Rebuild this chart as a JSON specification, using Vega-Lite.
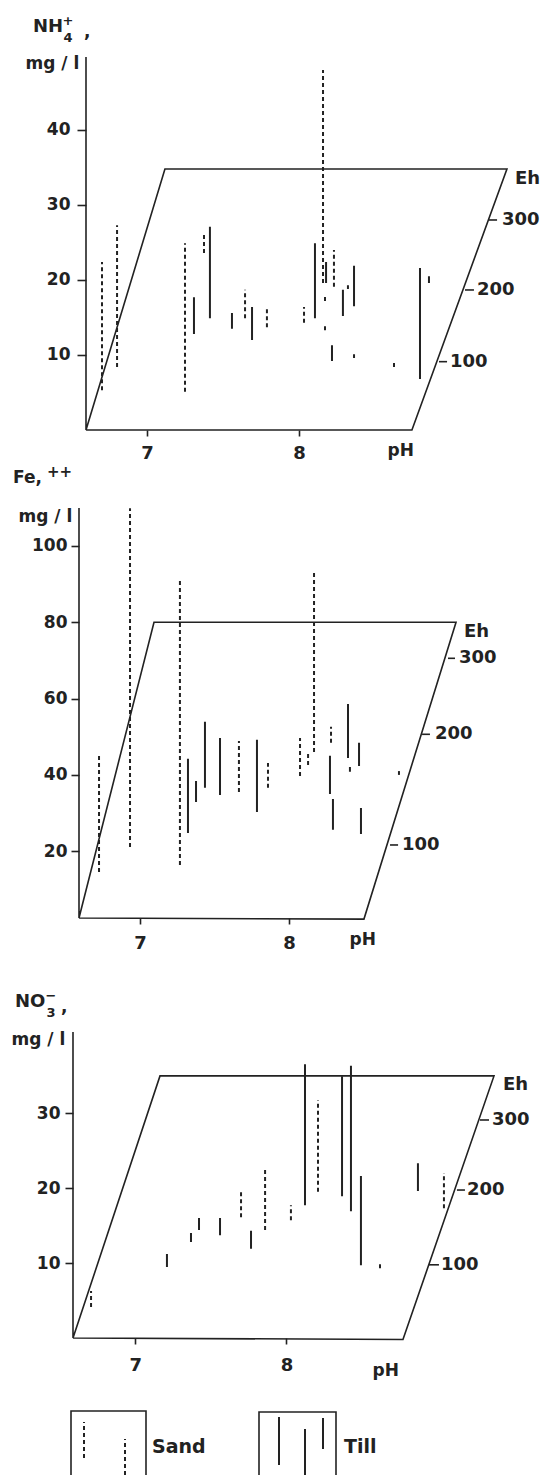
{
  "$schema": "https://vega.github.io/schema/vega-lite/v6.json",
  "padding": {"left": 11, "top": 15, "right": 0, "bottom": 0},
  "bounds": "flush",
  "spacing": 73,
  "config": {
    "font": "DejaVu Sans",
    "view": {"stroke": null},
    "axis": {"grid": false, "domainColor": "#222", "tickColor": "#222", "labelColor": "#222", "titleColor": "#222", "domainWidth": 1.5, "tickWidth": 1.6, "labelFontSize": 17, "labelFontWeight": "bold", "titleFontSize": 17, "titleFontWeight": "bold", "labelFont": "DejaVu Sans", "titleFont": "DejaVu Sans"},
    "text": {"color": "#222", "font": "DejaVu Sans", "fontWeight": "bold"},
    "line": {"color": "#222"},
    "rule": {"color": "#222"}
  },
  "datasets": {
    "frame": [
      {"panel": "NH4", "ord": 0, "pos": 6.5987, "conc": 49.73},
      {"panel": "NH4", "ord": 1, "pos": 6.5987, "conc": 0},
      {"panel": "NH4", "ord": 2, "pos": 7.118, "conc": 34.8},
      {"panel": "NH4", "ord": 3, "pos": 9.368, "conc": 34.8},
      {"panel": "NH4", "ord": 4, "pos": 8.743, "conc": 0},
      {"panel": "NH4", "ord": 5, "pos": 6.5987, "conc": 0},
      {"panel": "Fe", "ord": 0, "pos": 6.5906, "conc": 109.96},
      {"panel": "Fe", "ord": 1, "pos": 6.5906, "conc": 2.49},
      {"panel": "Fe", "ord": 2, "pos": 7.094, "conc": 80.0},
      {"panel": "Fe", "ord": 3, "pos": 9.121, "conc": 80.0},
      {"panel": "Fe", "ord": 4, "pos": 8.503, "conc": 2.2},
      {"panel": "Fe", "ord": 5, "pos": 6.5906, "conc": 2.49},
      {"panel": "NO3", "ord": 0, "pos": 6.5886, "conc": 40.8},
      {"panel": "NO3", "ord": 1, "pos": 6.5886, "conc": 0},
      {"panel": "NO3", "ord": 2, "pos": 7.164, "conc": 34.95},
      {"panel": "NO3", "ord": 3, "pos": 9.373, "conc": 34.95},
      {"panel": "NO3", "ord": 4, "pos": 8.771, "conc": -0.2},
      {"panel": "NO3", "ord": 5, "pos": 6.5886, "conc": 0}
    ],
    "lines": [
      {"panel": "NH4", "pos": 6.704, "lo": 5.3, "hi": 22.4, "type": "Sand"},
      {"panel": "NH4", "pos": 6.803, "lo": 8.4, "hi": 27.3, "type": "Sand"},
      {"panel": "NH4", "pos": 7.25, "lo": 5.1, "hi": 24.9, "type": "Sand"},
      {"panel": "NH4", "pos": 7.309, "lo": 12.8, "hi": 17.7, "type": "Till"},
      {"panel": "NH4", "pos": 7.375, "lo": 23.6, "hi": 26.0, "type": "Sand"},
      {"panel": "NH4", "pos": 7.414, "lo": 14.9, "hi": 27.1, "type": "Till"},
      {"panel": "NH4", "pos": 7.559, "lo": 13.5, "hi": 15.6, "type": "Till"},
      {"panel": "NH4", "pos": 7.645, "lo": 14.9, "hi": 18.7, "type": "Sand"},
      {"panel": "NH4", "pos": 7.691, "lo": 12.0, "hi": 16.4, "type": "Till"},
      {"panel": "NH4", "pos": 7.789, "lo": 13.7, "hi": 16.1, "type": "Sand"},
      {"panel": "NH4", "pos": 8.033, "lo": 14.3, "hi": 16.4, "type": "Sand"},
      {"panel": "NH4", "pos": 8.105, "lo": 14.9, "hi": 24.9, "type": "Till"},
      {"panel": "NH4", "pos": 8.158, "lo": 19.6, "hi": 48.0, "type": "Sand"},
      {"panel": "NH4", "pos": 8.178, "lo": 19.6, "hi": 22.4, "type": "Till"},
      {"panel": "NH4", "pos": 8.23, "lo": 19.1, "hi": 24.0, "type": "Sand"},
      {"panel": "NH4", "pos": 8.171, "lo": 17.2, "hi": 18.0, "type": "Sand"},
      {"panel": "NH4", "pos": 8.171, "lo": 13.3, "hi": 14.1, "type": "Sand"},
      {"panel": "NH4", "pos": 8.289, "lo": 15.2, "hi": 18.7, "type": "Till"},
      {"panel": "NH4", "pos": 8.322, "lo": 18.8, "hi": 19.3, "type": "Sand"},
      {"panel": "NH4", "pos": 8.362, "lo": 16.5, "hi": 21.9, "type": "Till"},
      {"panel": "NH4", "pos": 8.217, "lo": 9.2, "hi": 11.3, "type": "Till"},
      {"panel": "NH4", "pos": 8.362, "lo": 9.6, "hi": 10.1, "type": "Till"},
      {"panel": "NH4", "pos": 8.625, "lo": 8.4, "hi": 9.1, "type": "Sand"},
      {"panel": "NH4", "pos": 8.796, "lo": 6.8, "hi": 21.6, "type": "Till"},
      {"panel": "NH4", "pos": 8.855, "lo": 19.6, "hi": 20.5, "type": "Till"},
      {"panel": "Fe", "pos": 6.725, "lo": 14.55, "hi": 45.74, "type": "Sand"},
      {"panel": "Fe", "pos": 6.933, "lo": 21.1, "hi": 109.9, "type": "Sand"},
      {"panel": "Fe", "pos": 7.268, "lo": 16.4, "hi": 91.1, "type": "Sand"},
      {"panel": "Fe", "pos": 7.322, "lo": 24.8, "hi": 44.2, "type": "Till"},
      {"panel": "Fe", "pos": 7.376, "lo": 32.9, "hi": 38.4, "type": "Till"},
      {"panel": "Fe", "pos": 7.436, "lo": 36.6, "hi": 53.9, "type": "Till"},
      {"panel": "Fe", "pos": 7.537, "lo": 34.7, "hi": 49.7, "type": "Till"},
      {"panel": "Fe", "pos": 7.664, "lo": 35.5, "hi": 48.9, "type": "Sand"},
      {"panel": "Fe", "pos": 7.785, "lo": 30.3, "hi": 49.2, "type": "Till"},
      {"panel": "Fe", "pos": 7.859, "lo": 36.6, "hi": 43.1, "type": "Sand"},
      {"panel": "Fe", "pos": 8.074, "lo": 39.7, "hi": 49.7, "type": "Sand"},
      {"panel": "Fe", "pos": 8.128, "lo": 42.6, "hi": 46.0, "type": "Sand"},
      {"panel": "Fe", "pos": 8.168, "lo": 46.0, "hi": 92.9, "type": "Sand"},
      {"panel": "Fe", "pos": 8.282, "lo": 48.4, "hi": 52.6, "type": "Sand"},
      {"panel": "Fe", "pos": 8.275, "lo": 35.0, "hi": 45.0, "type": "Till"},
      {"panel": "Fe", "pos": 8.295, "lo": 25.6, "hi": 33.7, "type": "Till"},
      {"panel": "Fe", "pos": 8.396, "lo": 44.4, "hi": 58.6, "type": "Till"},
      {"panel": "Fe", "pos": 8.409, "lo": 40.8, "hi": 42.1, "type": "Till"},
      {"panel": "Fe", "pos": 8.47, "lo": 42.3, "hi": 48.4, "type": "Till"},
      {"panel": "Fe", "pos": 8.483, "lo": 24.5, "hi": 31.3, "type": "Till"},
      {"panel": "Fe", "pos": 8.738, "lo": 40.0, "hi": 41.0, "type": "Sand"},
      {"panel": "NO3", "pos": 6.708, "lo": 4.13, "hi": 6.27, "type": "Sand"},
      {"panel": "NO3", "pos": 7.21, "lo": 9.47, "hi": 11.2, "type": "Till"},
      {"panel": "NO3", "pos": 7.369, "lo": 12.8, "hi": 14.0, "type": "Till"},
      {"panel": "NO3", "pos": 7.422, "lo": 14.4, "hi": 16.0, "type": "Till"},
      {"panel": "NO3", "pos": 7.561, "lo": 13.7, "hi": 16.0, "type": "Till"},
      {"panel": "NO3", "pos": 7.7, "lo": 16.1, "hi": 19.7, "type": "Sand"},
      {"panel": "NO3", "pos": 7.766, "lo": 11.9, "hi": 14.3, "type": "Till"},
      {"panel": "NO3", "pos": 7.859, "lo": 14.4, "hi": 22.7, "type": "Sand"},
      {"panel": "NO3", "pos": 8.03, "lo": 15.7, "hi": 17.7, "type": "Sand"},
      {"panel": "NO3", "pos": 8.123, "lo": 17.7, "hi": 36.5, "type": "Till"},
      {"panel": "NO3", "pos": 8.209, "lo": 19.5, "hi": 31.7, "type": "Sand"},
      {"panel": "NO3", "pos": 8.368, "lo": 18.9, "hi": 34.9, "type": "Till"},
      {"panel": "NO3", "pos": 8.427, "lo": 16.9, "hi": 36.3, "type": "Till"},
      {"panel": "NO3", "pos": 8.493, "lo": 9.7, "hi": 21.6, "type": "Till"},
      {"panel": "NO3", "pos": 8.619, "lo": 9.3, "hi": 10.0, "type": "Sand"},
      {"panel": "NO3", "pos": 8.87, "lo": 19.6, "hi": 23.3, "type": "Till"},
      {"panel": "NO3", "pos": 9.042, "lo": 17.3, "hi": 22.0, "type": "Sand"}
    ],
    "eh": [
      {"panel": "NH4", "label": "300", "pos": 9.25, "pos2": 9.303, "lpos": 9.336, "conc": 28.0},
      {"panel": "NH4", "label": "200", "pos": 9.092, "pos2": 9.151, "lpos": 9.171, "conc": 18.67},
      {"panel": "NH4", "label": "100", "pos": 8.921, "pos2": 8.974, "lpos": 8.993, "conc": 9.11},
      {"panel": "NH4", "label": "Eh", "lpos": 9.421, "conc": 33.47},
      {"panel": "Fe", "label": "300", "pos": 9.067, "pos2": 9.114, "lpos": 9.141, "conc": 70.56},
      {"panel": "Fe", "label": "200", "pos": 8.893, "pos2": 8.946, "lpos": 8.98, "conc": 50.64},
      {"panel": "Fe", "label": "100", "pos": 8.678, "pos2": 8.732, "lpos": 8.758, "conc": 21.63},
      {"panel": "Fe", "label": "Eh", "lpos": 9.174, "conc": 77.33},
      {"panel": "NO3", "label": "300", "pos": 9.28, "pos2": 9.34, "lpos": 9.36, "conc": 29.07},
      {"panel": "NO3", "label": "200", "pos": 9.128, "pos2": 9.181, "lpos": 9.194, "conc": 19.73},
      {"panel": "NO3", "label": "100", "pos": 8.943, "pos2": 9.009, "lpos": 9.022, "conc": 9.76},
      {"panel": "NO3", "label": "Eh", "lpos": 9.432, "conc": 33.73}
    ],
    "legBox": [
      {"type": "Sand", "ord": 0, "lx": -15, "ly": 0},
      {"type": "Sand", "ord": 1, "lx": -15, "ly": 64},
      {"type": "Sand", "ord": 2, "lx": 60, "ly": 64},
      {"type": "Sand", "ord": 3, "lx": 60, "ly": 0},
      {"type": "Till", "ord": 0, "lx": 173, "ly": 0},
      {"type": "Till", "ord": 1, "lx": 173, "ly": 63},
      {"type": "Till", "ord": 2, "lx": 250, "ly": 63},
      {"type": "Till", "ord": 3, "lx": 250, "ly": 0}
    ],
    "legLines": [
      {"type": "Sand", "lx": -2, "ly1": 17, "ly2": 53},
      {"type": "Sand", "lx": 39, "ly1": 0, "ly2": 36},
      {"type": "Till", "lx": 193, "ly1": 10, "ly2": 58},
      {"type": "Till", "lx": 219, "ly1": 0, "ly2": 46},
      {"type": "Till", "lx": 237, "ly1": 26, "ly2": 57}
    ],
    "legLabels": [
      {"type": "Sand", "lx": 66, "ly": 28},
      {"type": "Till", "lx": 258, "ly": 28}
    ]
  },
  "vconcat": [
    {
      "width": 440,
      "height": 373,
      "layer": [
        {
          "data": {"name": "frame"},
          "transform": [{"filter": "datum.panel === 'NH4'"}],
          "mark": {"type": "line", "color": "#222", "strokeWidth": 1.6},
          "encoding": {
            "x": {"field": "pos", "type": "quantitative", "scale": {"domain": [6.5987, 9.4934], "nice": false, "zero": false},
              "axis": {"values": [7, 8], "format": "d", "domain": false, "grid": false, "tickSize": 6, "labelPadding": 8, "labelFontSize": 18, "title": "pH", "titleX": 301, "titleY": 25, "titleAlign": "left", "titleBaseline": "alphabetic", "titleAngle": 0}},
            "y": {"field": "conc", "type": "quantitative", "scale": {"domain": [0, 49.73], "nice": false, "zero": false},
              "axis": {"values": [10, 20, 30, 40], "domain": false, "grid": false, "tickSize": 9, "labelPadding": 7, "offset": 0, "title": "mg / l", "titleX": -61, "titleY": 11, "titleAngle": 0, "titleAlign": "left", "titleBaseline": "alphabetic"}},
            "order": {"field": "ord", "type": "quantitative"}
          }
        },
        {
          "data": {"name": "lines"},
          "transform": [{"filter": "datum.panel === 'NH4'"}],
          "mark": {"type": "rule", "color": "#222", "strokeWidth": 2},
          "encoding": {
            "x": {"field": "pos", "type": "quantitative"},
            "y": {"field": "lo", "type": "quantitative"},
            "y2": {"field": "hi"},
            "strokeDash": {"field": "type", "type": "nominal", "scale": {"domain": ["Sand", "Till"], "range": [[4, 3], [1, 0]]}, "legend": null}
          }
        },
        {
          "data": {"name": "eh"},
          "transform": [{"filter": "datum.panel === 'NH4' && isValid(datum.pos)"}],
          "mark": {"type": "rule", "color": "#222", "strokeWidth": 1.6},
          "encoding": {
            "x": {"field": "pos", "type": "quantitative"},
            "x2": {"field": "pos2"},
            "y": {"field": "conc", "type": "quantitative"}
          }
        },
        {
          "data": {"name": "eh"},
          "transform": [{"filter": "datum.panel === 'NH4'"}],
          "mark": {"type": "text", "align": "left", "baseline": "middle", "fontSize": 18},
          "encoding": {
            "x": {"field": "lpos", "type": "quantitative"},
            "y": {"field": "conc", "type": "quantitative"},
            "text": {"field": "label"}
          }
        },
        {
          "data": {"values": [{}]},
          "mark": {"type": "text", "text": "NH", "fontSize": 18, "align": "left", "baseline": "alphabetic"},
          "encoding": {"x": {"datum": 6.25}, "y": {"datum": 53.07}}
        },
        {
          "data": {"values": [{}]},
          "mark": {"type": "text", "text": ["+", "4"], "fontSize": 13, "lineHeight": 17, "align": "center", "baseline": "alphabetic"},
          "encoding": {"x": {"datum": 6.48}, "y": {"datum": 53.97}}
        },
        {
          "data": {"values": [{}]},
          "mark": {"type": "text", "text": ",", "fontSize": 17, "align": "left", "baseline": "alphabetic"},
          "encoding": {"x": {"datum": 6.586}, "y": {"datum": 52.4}}
        }
      ]
    },
    {
      "width": 440,
      "height": 415,
      "layer": [
        {
          "data": {"name": "frame"},
          "transform": [{"filter": "datum.panel === 'Fe'"}],
          "mark": {"type": "line", "color": "#222", "strokeWidth": 1.6},
          "encoding": {
            "x": {"field": "pos", "type": "quantitative", "scale": {"domain": [6.6376, 9.5906], "nice": false, "zero": false},
              "axis": {"values": [7, 8], "format": "d", "domain": false, "grid": false, "tickSize": 6, "labelPadding": 10, "labelFontSize": 18, "title": "pH", "titleX": 263, "titleY": 26, "titleAlign": "left", "titleBaseline": "alphabetic", "titleAngle": 0}},
            "y": {"field": "conc", "type": "quantitative", "scale": {"domain": [2.49, 111.27], "nice": false, "zero": false},
              "axis": {"values": [20, 40, 60, 80, 100], "domain": false, "grid": false, "tickSize": 8, "labelPadding": 4, "offset": 7, "title": "mg / l", "titleX": -61, "titleY": 18, "titleAngle": 0, "titleAlign": "left", "titleBaseline": "alphabetic"}},
            "order": {"field": "ord", "type": "quantitative"}
          }
        },
        {
          "data": {"name": "lines"},
          "transform": [{"filter": "datum.panel === 'Fe'"}],
          "mark": {"type": "rule", "color": "#222", "strokeWidth": 2},
          "encoding": {
            "x": {"field": "pos", "type": "quantitative"},
            "y": {"field": "lo", "type": "quantitative"},
            "y2": {"field": "hi"},
            "strokeDash": {"field": "type", "type": "nominal", "scale": {"domain": ["Sand", "Till"], "range": [[4, 3], [1, 0]]}, "legend": null}
          }
        },
        {
          "data": {"name": "eh"},
          "transform": [{"filter": "datum.panel === 'Fe' && isValid(datum.pos)"}],
          "mark": {"type": "rule", "color": "#222", "strokeWidth": 1.6},
          "encoding": {
            "x": {"field": "pos", "type": "quantitative"},
            "x2": {"field": "pos2"},
            "y": {"field": "conc", "type": "quantitative"}
          }
        },
        {
          "data": {"name": "eh"},
          "transform": [{"filter": "datum.panel === 'Fe'"}],
          "mark": {"type": "text", "align": "left", "baseline": "middle", "fontSize": 18},
          "encoding": {
            "x": {"field": "lpos", "type": "quantitative"},
            "y": {"field": "conc", "type": "quantitative"},
            "text": {"field": "label"}
          }
        },
        {
          "data": {"values": [{}]},
          "mark": {"type": "text", "text": "Fe,", "fontSize": 17, "align": "left", "baseline": "alphabetic"},
          "encoding": {"x": {"datum": 6.1477}, "y": {"datum": 116.51}}
        },
        {
          "data": {"values": [{}]},
          "mark": {"type": "text", "text": "++", "fontSize": 15, "align": "left", "baseline": "alphabetic"},
          "encoding": {"x": {"datum": 6.376}, "y": {"datum": 118.14}}
        }
      ]
    },
    {
      "width": 440,
      "height": 347,
      "layer": [
        {
          "data": {"name": "frame"},
          "transform": [{"filter": "datum.panel === 'NO3'"}],
          "mark": {"type": "line", "color": "#222", "strokeWidth": 1.6},
          "encoding": {
            "x": {"field": "pos", "type": "quantitative", "scale": {"domain": [6.6746, 9.5847], "nice": false, "zero": false},
              "axis": {"values": [7, 8], "format": "d", "domain": false, "grid": false, "tickSize": 6, "labelPadding": 12, "labelFontSize": 18, "title": "pH", "titleX": 286, "titleY": 37, "titleAlign": "left", "titleBaseline": "alphabetic", "titleAngle": 0}},
            "y": {"field": "conc", "type": "quantitative", "scale": {"domain": [0, 46.27], "nice": false, "zero": false},
              "axis": {"values": [10, 20, 30], "domain": false, "grid": false, "tickSize": 8, "labelPadding": 5, "offset": 13, "title": "mg / l", "titleX": -62, "titleY": 53, "titleAngle": 0, "titleAlign": "left", "titleBaseline": "alphabetic"}},
            "order": {"field": "ord", "type": "quantitative"}
          }
        },
        {
          "data": {"name": "lines"},
          "transform": [{"filter": "datum.panel === 'NO3'"}],
          "mark": {"type": "rule", "color": "#222", "strokeWidth": 2},
          "encoding": {
            "x": {"field": "pos", "type": "quantitative"},
            "y": {"field": "lo", "type": "quantitative"},
            "y2": {"field": "hi"},
            "strokeDash": {"field": "type", "type": "nominal", "scale": {"domain": ["Sand", "Till"], "range": [[4, 3], [1, 0]]}, "legend": null}
          }
        },
        {
          "data": {"name": "eh"},
          "transform": [{"filter": "datum.panel === 'NO3' && isValid(datum.pos)"}],
          "mark": {"type": "rule", "color": "#222", "strokeWidth": 1.6},
          "encoding": {
            "x": {"field": "pos", "type": "quantitative"},
            "x2": {"field": "pos2"},
            "y": {"field": "conc", "type": "quantitative"}
          }
        },
        {
          "data": {"name": "eh"},
          "transform": [{"filter": "datum.panel === 'NO3'"}],
          "mark": {"type": "text", "align": "left", "baseline": "middle", "fontSize": 18},
          "encoding": {
            "x": {"field": "lpos", "type": "quantitative"},
            "y": {"field": "conc", "type": "quantitative"},
            "text": {"field": "label"}
          }
        },
        {
          "data": {"values": [{}]},
          "mark": {"type": "text", "text": "NO", "fontSize": 18, "align": "left", "baseline": "alphabetic"},
          "encoding": {"x": {"datum": 6.205}, "y": {"datum": 44.13}}
        },
        {
          "data": {"values": [{}]},
          "mark": {"type": "text", "text": ["−", "3"], "fontSize": 13, "lineHeight": 17, "align": "center", "baseline": "alphabetic"},
          "encoding": {"x": {"datum": 6.443}, "y": {"datum": 45.07}}
        },
        {
          "data": {"values": [{}]},
          "mark": {"type": "text", "text": ",", "fontSize": 17, "align": "left", "baseline": "alphabetic"},
          "encoding": {"x": {"datum": 6.51}, "y": {"datum": 43.47}}
        }
      ]
    },
    {
      "width": 440,
      "height": 64,
      "layer": [
        {
          "data": {"name": "legBox"},
          "mark": {"type": "line", "color": "#222", "strokeWidth": 1.6},
          "encoding": {
            "x": {"field": "lx", "type": "quantitative", "scale": {"domain": [0, 440], "nice": false, "zero": false}, "axis": null},
            "y": {"field": "ly", "type": "quantitative", "scale": {"domain": [0, 64], "nice": false, "zero": false}, "axis": null},
            "detail": {"field": "type"},
            "order": {"field": "ord", "type": "quantitative"}
          }
        },
        {
          "data": {"name": "legLines"},
          "mark": {"type": "rule", "color": "#222", "strokeWidth": 2},
          "encoding": {
            "x": {"field": "lx", "type": "quantitative"},
            "y": {"field": "ly1", "type": "quantitative"},
            "y2": {"field": "ly2"},
            "strokeDash": {"field": "type", "type": "nominal", "scale": {"domain": ["Sand", "Till"], "range": [[4, 3], [1, 0]]}, "legend": null}
          }
        },
        {
          "data": {"name": "legLabels"},
          "mark": {"type": "text", "align": "left", "baseline": "middle", "fontSize": 19},
          "encoding": {
            "x": {"field": "lx", "type": "quantitative"},
            "y": {"field": "ly", "type": "quantitative"},
            "text": {"field": "type"}
          }
        }
      ]
    }
  ]
}
